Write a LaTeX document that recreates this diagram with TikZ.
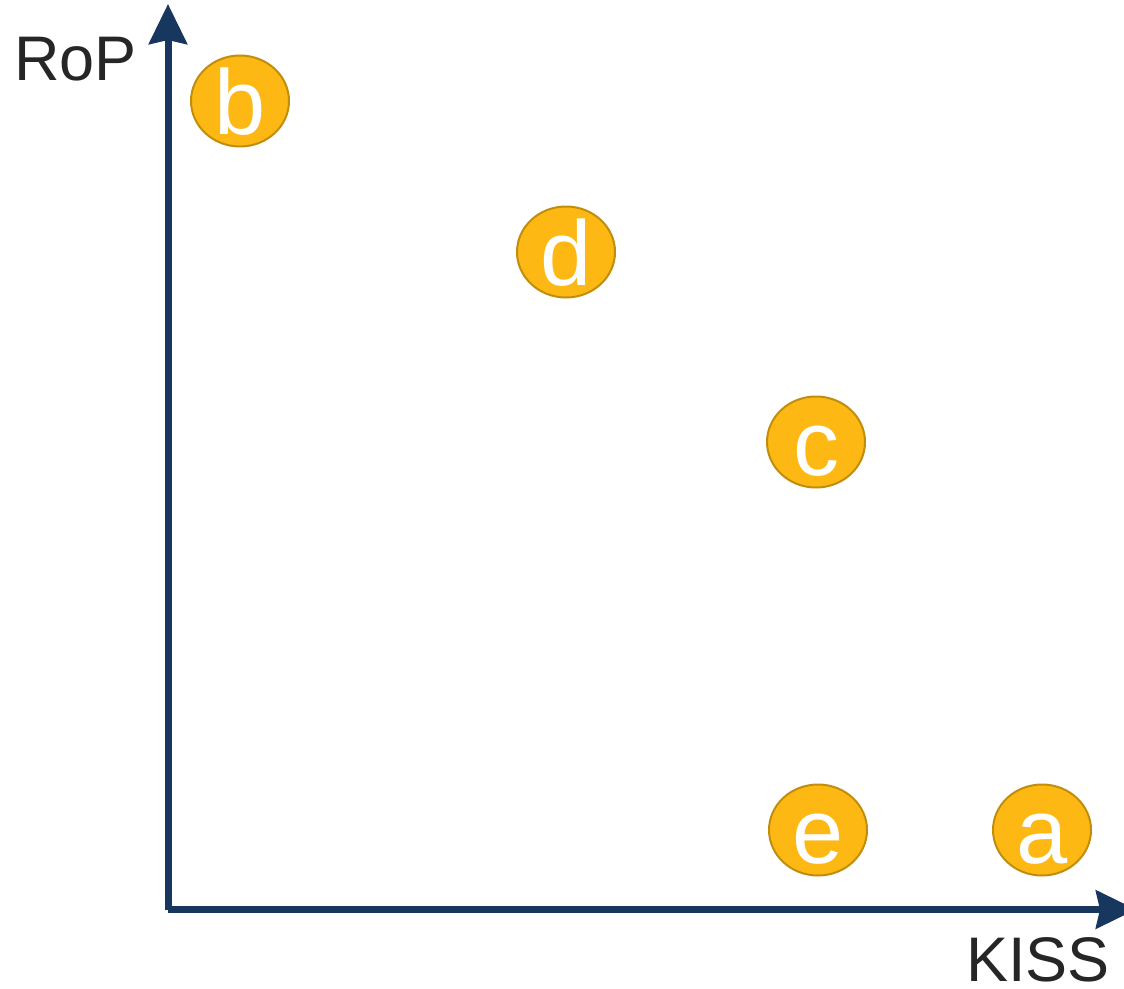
\documentclass[tikz,border=0pt]{standalone}
\usepackage{fontspec}
\setmainfont{Liberation Sans}
\usetikzlibrary{arrows.meta,shapes.geometric}
\definecolor{axisblue}{HTML}{17375E}
\definecolor{dotfill}{HTML}{FDB813}
\definecolor{dotdraw}{HTML}{C38D0C}
\definecolor{labelgray}{HTML}{262626}
\newcommand{\dotletter}[1]{\raisebox{-33pt}[0pt][0pt]{#1}}
\tikzset{
  axisline/.style={draw=axisblue, line width=7pt, -{Stealth[length=40pt, width=38pt, inset=4pt]}},
  dot/.style={ellipse, draw=dotdraw, fill=dotfill, line width=2pt, minimum width=98pt, minimum height=91pt, inner sep=0pt, text=white, font=\fontsize{92}{92}\selectfont},
  axlabel/.style={text=labelgray, font=\fontsize{63}{63}\selectfont, inner sep=0pt}
}
\begin{document}
\begin{tikzpicture}[x=1pt, y=-1pt]
\useasboundingbox (0,0) rectangle (1124,988);
\coordinate (o) at (168,909.5);
\coordinate (ytip) at (168,4);
\coordinate (xtip) at (1136,909.5);
\draw[axisline] (o) -- (ytip);
\draw[axisline] (o) -- (xtip);
\node[axlabel, anchor=base west] (rop) at (14,80) {RoP};
\node[axlabel, anchor=base east] (kiss) at (1110,981) {KISS};
\node[dot] (b) at (240,101) {\dotletter{b}};
\node[dot] (d) at (566,252) {\dotletter{d}};
\node[dot] (c) at (816,442) {\dotletter{c}};
\node[dot] (e) at (818,830) {\dotletter{e}};
\node[dot] (a) at (1042,830) {\dotletter{a}};
\end{tikzpicture}
\end{document}
